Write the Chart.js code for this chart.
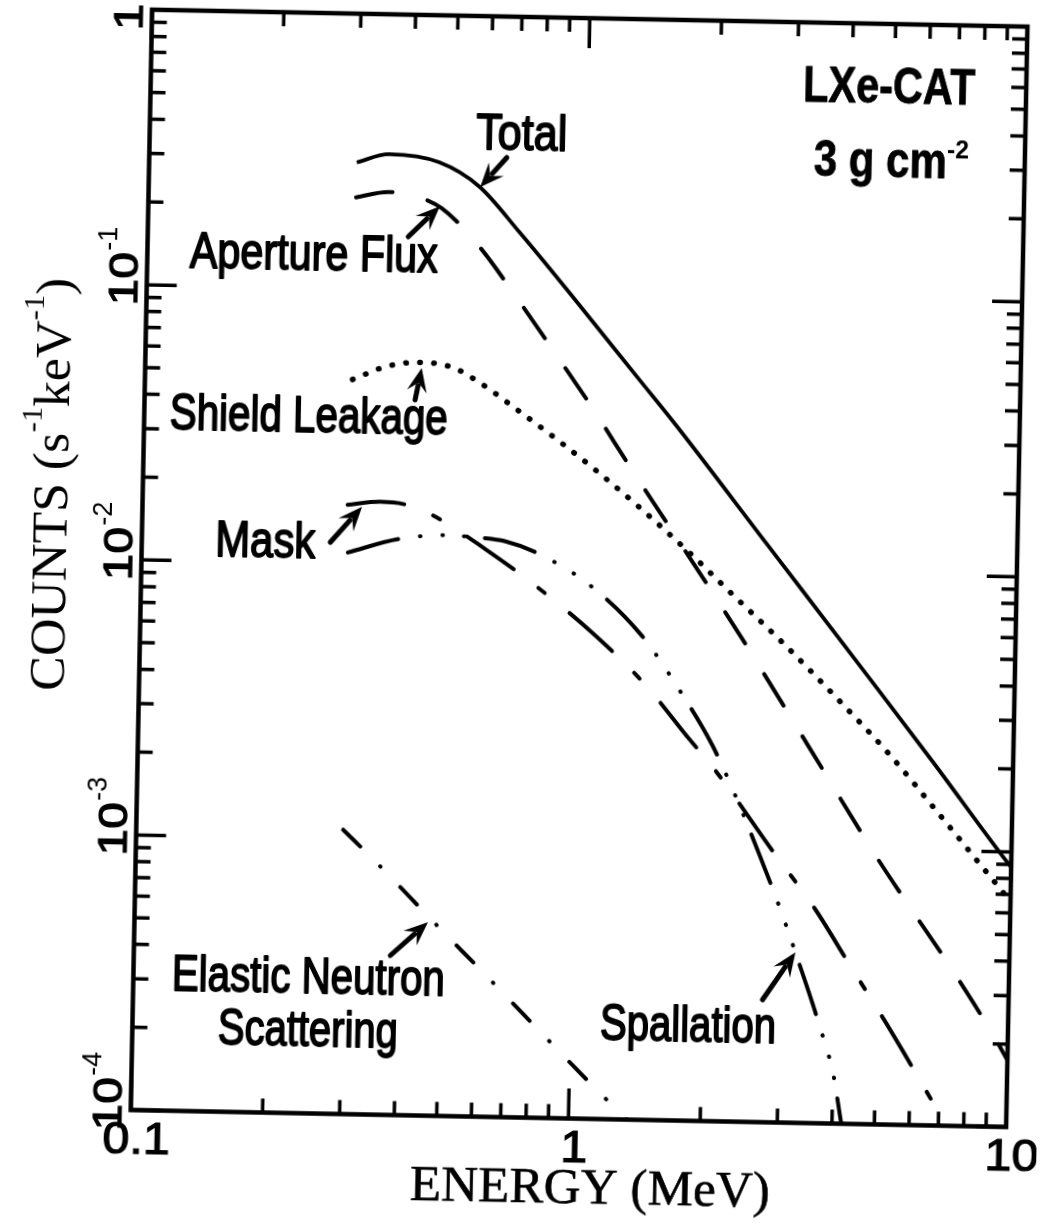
<!DOCTYPE html>
<html>
<head>
<meta charset="utf-8">
<title>LXe-CAT background spectrum</title>
<script src="https://cdn.jsdelivr.net/npm/chart.js@4.4.1/dist/chart.umd.min.js"></script>
<style>
  html, body { margin: 0; padding: 0; background: #fff; overflow: hidden; }
  #chart { display: block; transform: rotate(1.11deg); transform-origin: 50% 50%; }
</style>
</head>
<body>
<canvas id="chart" width="1047" height="1224"></canvas>
<script>
// energy in MeV, counts in s^-1 keV^-1
const totalEnergy = [0.298, 0.353, 0.46, 0.569, 0.706, 0.94, 1.346, 1.644, 2.67, 4.59, 6.55, 9.42, 10];
const totalCounts = [0.288, 0.31, 0.292, 0.24, 0.165, 0.097, 0.049, 0.0335, 0.0127, 0.0043, 0.0021, 0.00099, 0.00088];

const apertureEnergy = [0.298, 0.353, 0.408, 0.468, 0.569, 0.71, 0.876, 1.069, 1.297, 1.595, 2.34, 3.41, 4.97, 7.49, 9.31, 10];
const apertureCounts = [0.215, 0.226, 0.219, 0.199, 0.147, 0.0925, 0.0582, 0.0372, 0.0234, 0.0145, 0.0059, 0.00233, 0.000916, 0.00036, 0.000212, 0.000175];

const shieldEnergy = [0.298, 0.356, 0.423, 0.504, 0.581, 0.719, 0.891, 1.103, 1.366, 1.806, 2.21, 2.97, 4.0, 5.22, 6.77, 8.63, 10];
const shieldCounts = [0.0468, 0.0525, 0.0546, 0.0526, 0.0466, 0.0368, 0.0288, 0.0222, 0.0168, 0.0114, 0.00844, 0.00546, 0.00342, 0.00221, 0.00137, 0.00087, 0.00066];

const maskEnergy = [0.294, 0.348, 0.397, 0.461, 0.613, 0.807, 1.071, 1.432, 1.82, 2.065, 2.855, 3.59, 4.29, 5.21, 6.21, 7.3];
const maskCounts = [0.0164, 0.0169, 0.0166, 0.0152, 0.0115, 0.00845, 0.0059, 0.00382, 0.00243, 0.00193, 0.000964, 0.000597, 0.000385, 0.00024, 0.000153, 0.0001];

const spallationEnergy = [0.296, 0.385, 0.492, 0.597, 0.674, 0.799, 1.06, 1.4, 1.72, 2.05, 2.35, 2.67, 3.01, 3.24, 3.69, 4.02, 4.11, 4.2];
const spallationCounts = [0.011, 0.0124, 0.0129, 0.0127, 0.0124, 0.0113, 0.0087, 0.00575, 0.00365, 0.00233, 0.00148, 0.00092, 0.000574, 0.000418, 0.000232, 0.000148, 0.000122, 0.0001];

const elasticEnergy = [0.297, 0.365, 0.482, 0.647, 0.856, 1.138, 1.3, 1.36];
const elasticCounts = [0.00108, 0.00079, 0.000507, 0.00032, 0.000205, 0.000131, 0.000107, 0.0001];

const xTickValues = [0.1, 1, 10];
const xTickLabels = ['0.1', '1', '10'];
const yTickValues = [1, 1e-1, 1e-2, 1e-3, 1e-4];
const yTickLabels = [['1', ''], ['10', '-1'], ['10', '-2'], ['10', '-3'], ['10', '-4']];

const SANS = '"Liberation Sans", Arial, Helvetica, sans-serif';
const SERIF = '"Liberation Serif", "Times New Roman", serif';

const toPoints = (xs, ys) => xs.map((x, i) => ({ x: x, y: ys[i] }));

const curves = [
  { label: 'Total', energy: totalEnergy, counts: totalCounts, dash: [], width: 3.8 },
  { label: 'Aperture Flux', energy: apertureEnergy, counts: apertureCounts, dash: [37, 36], width: 4 },
  { label: 'Shield Leakage', energy: shieldEnergy, counts: shieldCounts, dash: [0.5, 13.5], width: 5.5 },
  { label: 'Mask', energy: maskEnergy, counts: maskCounts, dash: [57, 31, 8, 32], width: 4 },
  { label: 'Spallation', energy: spallationEnergy, counts: spallationCounts, dash: [52, 22, 0.5, 22, 0.5, 21, 0.5, 20.5], width: 4 },
  { label: 'Elastic Neutron Scattering', energy: elasticEnergy, counts: elasticCounts, dash: [24, 28, 0.5, 28.5], width: 4 }
];

// curve names written inside the plot, squeezed to a condensed width
const notes = [
  { text: 'Total', x0: 467, x1: 558, base: 150 },
  { text: 'Aperture Flux', x0: 183, x1: 431, base: 274 },
  { text: 'Shield Leakage', x0: 166, x1: 444, base: 436 },
  { text: 'Mask', x0: 214, x1: 314, base: 562 },
  { text: 'Elastic Neutron', x0: 179, x1: 452, base: 997 },
  { text: 'Scattering', x0: 226, x1: 406, base: 1050 },
  { text: 'Spallation', x0: 608, x1: 784, base: 1038 }
];
// tail x, tail y, tip x, tip y
const arrows = [
  [498, 158, 472, 188],
  [401, 239, 432, 208],
  [411, 402, 417, 370],
  [329, 546, 360, 510],
  [397, 958, 434, 924],
  [770, 995, 802, 947]
];

function fitText(ctx, text, font, x0, x1, base, stroke) {
  ctx.save();
  ctx.font = font;
  const w = ctx.measureText(text).width;
  ctx.translate(x0, base);
  ctx.scale((x1 - x0) / w, 1);
  ctx.textAlign = 'left';
  ctx.textBaseline = 'alphabetic';
  ctx.fillText(text, 0, 0);
  if (stroke) {
    ctx.lineWidth = stroke;
    ctx.lineJoin = 'round';
    ctx.strokeText(text, 0, 0);
  }
  ctx.restore();
}

function arrow(ctx, x0, y0, x1, y1) {
  const ang = Math.atan2(y1 - y0, x1 - x0);
  const c = Math.cos(ang), s = Math.sin(ang);
  const head = 24, half = 10;
  ctx.lineWidth = 5;
  ctx.lineCap = 'round';
  ctx.beginPath();
  ctx.moveTo(x0, y0);
  ctx.lineTo(x1 - (head - 6) * c, y1 - (head - 6) * s);
  ctx.stroke();
  ctx.beginPath();
  ctx.moveTo(x1, y1);
  ctx.lineTo(x1 - head * c - half * s, y1 - head * s + half * c);
  ctx.lineTo(x1 - head * 0.62 * c, y1 - head * 0.62 * s);
  ctx.lineTo(x1 - head * c + half * s, y1 - head * s - half * c);
  ctx.closePath();
  ctx.fill();
}

// rich text drawn along a rotated baseline: [text, size, rise]
function richWidth(ctx, parts, family) {
  let w = 0;
  parts.forEach(p => { ctx.font = p[1] + 'px ' + family; w += ctx.measureText(p[0]).width; });
  return w;
}
function drawRich(ctx, parts, family, stretch) {
  let cx = 0;
  parts.forEach(p => {
    ctx.font = p[1] + 'px ' + family;
    ctx.save();
    ctx.scale(stretch, 1);
    ctx.fillText(p[0], cx / stretch, -p[2]);
    ctx.restore();
    cx += ctx.measureText(p[0]).width * stretch;
  });
}

const axesPlugin = {
  id: 'axesPlugin',
  afterDraw(chart) {
    const { ctx, chartArea: a, scales: { x, y } } = chart;
    ctx.save();
    ctx.strokeStyle = '#000';
    ctx.fillStyle = '#000';

    // inward ticks on all four sides
    ctx.lineWidth = 3.5;
    ctx.lineCap = 'butt';
    ctx.beginPath();
    for (let d = -1; d < 1; d++) {
      for (let k = 1; k < 10; k++) {
        const px = x.getPixelForValue(k * Math.pow(10, d));
        const len = k === 1 ? 30 : 14;
        ctx.moveTo(px, a.bottom); ctx.lineTo(px, a.bottom - len);
        ctx.moveTo(px, a.top); ctx.lineTo(px, a.top + len);
      }
    }
    for (let d = -4; d < 0; d++) {
      for (let k = 1; k < 10; k++) {
        const py = y.getPixelForValue(k * Math.pow(10, d));
        const len = k === 1 ? 30 : 15;
        ctx.moveTo(a.left, py); ctx.lineTo(a.left + len, py);
        ctx.moveTo(a.right, py); ctx.lineTo(a.right - len, py);
      }
    }
    ctx.stroke();

    ctx.lineWidth = 4.5;
    ctx.lineJoin = 'miter';
    ctx.strokeRect(a.left, a.top, a.right - a.left, a.bottom - a.top);

    // energy tick labels
    ctx.lineWidth = 1.2;
    xTickValues.forEach((v, i) => {
      const px = x.getPixelForValue(v) + 6;
      ctx.save();
      ctx.font = '44px ' + SANS;
      ctx.translate(px, a.bottom + 43.5);
      ctx.scale(1.1, 1);
      ctx.textAlign = 'center';
      ctx.fillText(xTickLabels[i], 0, 0);
      ctx.strokeText(xTickLabels[i], 0, 0);
      ctx.restore();
    });

    // count tick labels, written bottom to top
    yTickValues.forEach((v, i) => {
      const py = y.getPixelForValue(v);
      const [base, sup] = yTickLabels[i];
      ctx.save();
      ctx.translate(a.left - 9.5, py + 21);
      ctx.rotate(-Math.PI / 2);
      ctx.textAlign = 'left';
      ctx.font = '40px ' + SANS;
      ctx.save();
      ctx.scale(1.2, 1);
      ctx.fillText(base, 0, 0);
      ctx.strokeText(base, 0, 0);
      ctx.restore();
      if (sup) {
        const w = ctx.measureText(base).width * 1.2;
        ctx.font = '27px ' + SANS;
        ctx.fillText(sup, w + 1, -21);
      }
      ctx.restore();
    });

    // axis titles
    fitText(ctx, 'ENERGY (MeV)', '50px ' + SERIF, 421, 781, 1202, 0.6);
    const yTitle = [['COUNTS (s', 51, 0], ['-1', 30, 27], ['keV', 51, 0], ['-1', 30, 27], [')', 51, 0]];
    const natural = richWidth(ctx, yTitle, SERIF);
    ctx.save();
    ctx.translate(64.5, 700);
    ctx.rotate(-Math.PI / 2);
    ctx.textAlign = 'left';
    drawRich(ctx, yTitle, SERIF, 413 / natural);
    ctx.restore();

    // curve names and pointers
    notes.forEach(n => fitText(ctx, n.text, '50px ' + SANS, n.x0, n.x1, n.base, 1.8));
    arrows.forEach(r => arrow(ctx, r[0], r[1], r[2], r[3]));

    // detector and shielding note
    fitText(ctx, 'LXe-CAT', 'bold 50px ' + SANS, 793, 965, 96, 0.8);
    fitText(ctx, '3 g cm', 'bold 50px ' + SANS, 805, 938, 170, 0.8);
    fitText(ctx, '-2', 'bold 26px ' + SANS, 938, 960, 150);

    ctx.restore();
  }
};

new Chart(document.getElementById('chart'), {
  type: 'line',
  data: {
    datasets: curves.map(c => ({
      label: c.label,
      data: toPoints(c.energy, c.counts),
      borderColor: '#000',
      borderWidth: c.width,
      borderDash: c.dash,
      borderCapStyle: c.dash.length ? 'round' : 'butt',
      borderJoinStyle: 'round',
      pointRadius: 0,
      fill: false,
      cubicInterpolationMode: 'monotone'
    }))
  },
  options: {
    responsive: false,
    animation: false,
    devicePixelRatio: 1,
    layout: { padding: { left: 140.5, top: 17, right: 31, bottom: 106.5 } },
    plugins: { legend: { display: false }, tooltip: { enabled: false } },
    scales: {
      x: { type: 'logarithmic', min: 0.1, max: 10, display: false },
      y: { type: 'logarithmic', min: 1e-4, max: 1, display: false }
    }
  },
  plugins: [axesPlugin]
});
</script>
</body>
</html>
